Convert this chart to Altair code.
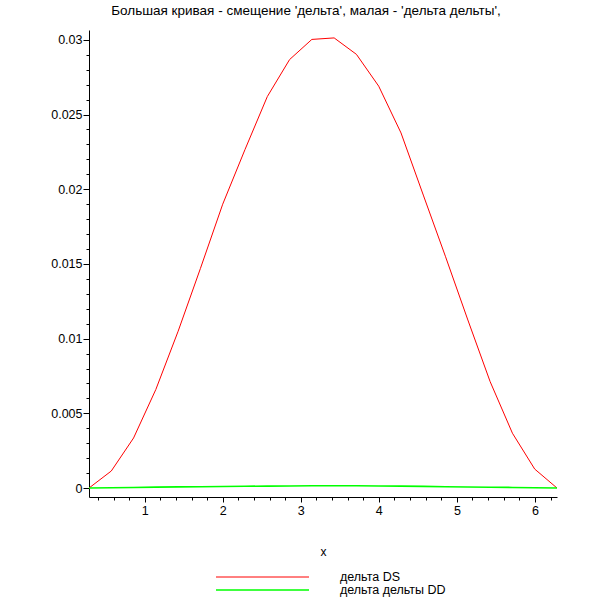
import altair as alt
import pandas as pd

# x values (k * 2*pi/22)
x_vals = [0.2856, 0.5712, 0.8568, 1.1424, 1.4280, 1.7136, 1.9992, 2.2848,
          2.5704, 2.8560, 3.1416, 3.4272, 3.7128, 3.9984, 4.2840, 4.5696,
          4.8552, 5.1408, 5.4264, 5.7120, 5.9976, 6.2832]

ds_vals = [0.0, 0.00114, 0.00335, 0.0066, 0.0105, 0.0147, 0.0190, 0.02266,
           0.0262, 0.02868, 0.03003, 0.03013, 0.02903, 0.0269, 0.02377, 0.01961,
           0.01548, 0.01125, 0.00712, 0.00367, 0.00127, 0.0]

dd_vals = [0.0, 0.00002, 0.00004, 0.00006, 0.00008, 0.00009, 0.00010, 0.00012,
           0.00013, 0.00014, 0.00015, 0.00015, 0.00015, 0.00014, 0.00013, 0.00011,
           0.00009, 0.00007, 0.00005, 0.00004, 0.00002, 0.0]

series_names = ["дельта DS", "дельта дельты DD"]
series_colors = ["#ff0000", "#00ff00"]
series_widths = [1.0, 1.6]

title_text = "Большая кривая - смещение 'дельта', малая - 'дельта дельты',"

x_ticks = [round(0.4 + 0.2 * i, 1) for i in range(30)]
y_ticks = [round(0.001 * i, 3) for i in range(31)]

rows = []
for x, a, b in zip(x_vals, ds_vals, dd_vals):
    rows.append({"x": x, "y": a, "s": series_names[0]})
    rows.append({"x": x, "y": b, "s": series_names[1]})
df = pd.DataFrame(rows)

FONT = "Liberation Sans"

x_axis = alt.Axis(
    title="x",
    values=x_ticks,
    labelExpr="abs(datum.value - round(datum.value)) < 1e-6 ? format(datum.value, 'd') : ''",
    tickSize={"condition": {"test": "abs(datum.value - round(datum.value)) < 1e-6", "value": 5}, "value": 3},
    labelFlush=False,
    labelPadding=2,
    grid=False,
    titleY=54,
    titleBaseline="middle",
    titleFontWeight="normal",
)

y_axis = alt.Axis(
    title=None,
    values=y_ticks,
    labelExpr="abs(datum.value * 200 - round(datum.value * 200)) < 1e-6 ? format(datum.value, '~g') : ''",
    tickSize={"condition": {"test": "abs(datum.value * 200 - round(datum.value * 200)) < 1e-6", "value": 6}, "value": 3},
    labelPadding=1,
    grid=False,
)

chart = alt.Chart(df).mark_line(clip=True).encode(
    x=alt.X("x:Q", scale=alt.Scale(domain=[0.2856, 6.2832], nice=False, zero=False), axis=x_axis),
    y=alt.Y("y:Q", scale=alt.Scale(domain=[-0.0006, 0.03066], nice=False, zero=False), axis=y_axis),
    color=alt.Color(
        "s:N",
        scale=alt.Scale(domain=series_names, range=series_colors),
        legend=alt.Legend(
            title=None,
            orient="none",
            legendX=126,
            legendY=541,
            symbolType="stroke",
            symbolSize=8649,
            symbolStrokeWidth=1.5,
            clipHeight=12,
            rowPadding=0,
            padding=0,
            labelOffset=30,
            labelFont=FONT,
            labelFontSize=12.5,
            labelColor="black",
        ),
    ),
    strokeWidth=alt.StrokeWidth(
        "s:N",
        scale=alt.Scale(domain=series_names, range=series_widths),
        legend=None,
    ),
    detail="s:N",
).properties(
    width=468,
    height=467,
    title=alt.TitleParams(
        text=title_text,
        font=FONT,
        fontSize=13.5,
        fontWeight="normal",
        anchor="middle",
        dx=-17,
        offset=13,
        color="black",
    ),
    autosize=alt.AutoSizeParams(type="none"),
    padding={"left": 89, "top": 30, "right": 53, "bottom": 113},
).configure_view(
    stroke=None
).configure_axis(
    labelFont=FONT,
    labelFontSize=12.5,
    labelColor="black",
    titleFont=FONT,
    titleFontSize=12,
    titleColor="black",
    domainColor="black",
    tickColor="black",
    domainWidth=1,
    tickWidth=1,
)

chart.save("out.html", embed_options={"renderer": "svg", "actions": False})
